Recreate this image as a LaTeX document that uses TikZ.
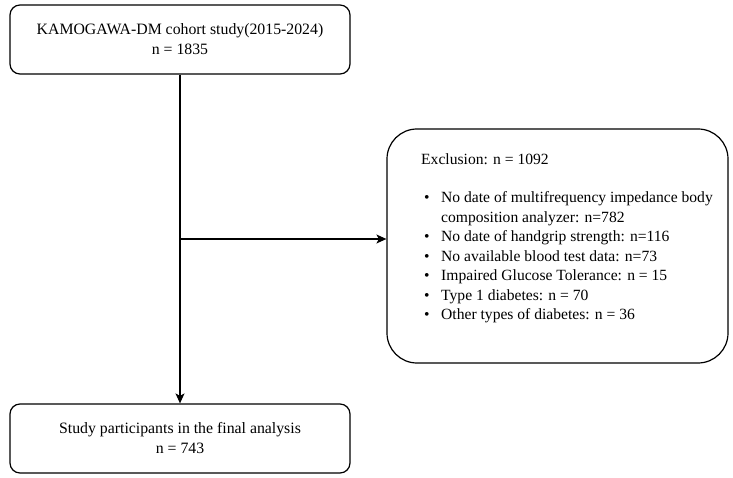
\documentclass[tikz,border=0pt]{standalone}
\usepackage{fontspec}
\setmainfont{Liberation Serif}
\usetikzlibrary{arrows.meta}
\begin{document}
\begin{tikzpicture}[x=1pt,y=-1pt,
  box/.style={draw, line width=1.2pt, rounded corners=10pt, align=center,
    font=\fontsize{15.8}{20}\selectfont, minimum width=340pt, minimum height=69pt, inner sep=0pt},
  exbox/.style={draw, line width=1.2pt, rounded corners=30pt, minimum width=341pt, minimum height=234pt, inner sep=0pt},
  txt/.style={font=\fontsize{15.6}{19.5}\selectfont, inner sep=0pt},
  arr/.style={line width=1.2pt, -{Stealth[length=10pt,width=9pt,inset=2.5pt]}}]
\useasboundingbox (0,0) rectangle (733,478);
\node[box] (top) at (180,39.5) {KAMOGAWA-DM cohort study(2015-2024)\\ n = 1835};
\node[box] (final) at (180,438.5) {Study participants in the final analysis\\ n = 743};
\node[exbox] (excl) at (557.5,246) {};
\node[txt, anchor=base west] (exhead) at (421,165) {Exclusion: n = 1092};
\node[txt, anchor=base west] (exlist) at (424,203) {\begin{tabular}[t]{@{}p{17pt}@{}l@{}}
\textbullet & No date of multifrequency impedance body\\
 & composition analyzer: n=782\\
\textbullet & No date of handgrip strength: n=116\\
\textbullet & No available blood test data: n=73\\
\textbullet & Impaired Glucose Tolerance: n = 15\\
\textbullet & Type 1 diabetes: n = 70\\
\textbullet & Other types of diabetes: n = 36
\end{tabular}};
\draw[arr] (top.south) -- (final.north);
\coordinate (branch) at (180,239);
\draw[arr] (branch) -- (branch -| excl.west);
\end{tikzpicture}
\end{document}
